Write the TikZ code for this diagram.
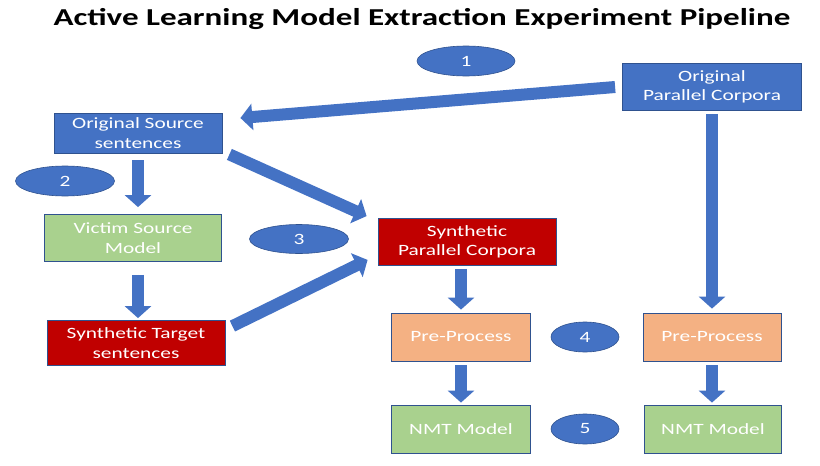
\documentclass[tikz,border=0pt]{standalone}
\usepackage{fontspec}
\setmainfont{Carlito}[FakeStretch=1.36]
\usetikzlibrary{arrows.meta,shapes.geometric}
\definecolor{obl}{HTML}{4472C4}
\definecolor{obd}{HTML}{2F528F}
\definecolor{ogr}{HTML}{A9D18E}
\definecolor{ord}{HTML}{C00000}
\definecolor{oor}{HTML}{F4B183}
\tikzset{
  box/.style={draw=obd, line width=0.8pt, text=white, align=center, inner sep=0pt, font=\fontsize{15.7}{19.5}\selectfont},
  bluebox/.style={box, fill=obl},
  greenbox/.style={box, fill=ogr},
  redbox/.style={box, fill=ord},
  orbox/.style={box, fill=oor},
  num/.style={ellipse, fill=obl, draw=obd, line width=0.6pt, text=white, inner sep=0pt, font=\fontsize{15.7}{19}\selectfont},
  barrow/.style={draw=obl, line width=12pt, -{Triangle[width=26pt,length=12pt]}, fill=obl},
}
\begin{document}
\begin{tikzpicture}[x=1pt,y=-1pt]
\useasboundingbox (0,0) rectangle (820,466);
\node[font=\bfseries\fontsize{24.3}{28}\selectfont] (title) at (422,19) {Active Learning Model Extraction Experiment Pipeline};
\node[num, minimum width=98pt, minimum height=30pt] (n1) at (466,61) {1};
\node[bluebox, minimum width=179pt, minimum height=47pt] (opc) at (712,87) {Original\\Parallel Corpora};
\node[bluebox, minimum width=168pt, minimum height=40pt] (osrc) at (138,133) {Original Source\\sentences};
\node[num, minimum width=99pt, minimum height=30pt] (n2) at (65,181) {2};
\node[greenbox, minimum width=177pt, minimum height=47pt] (victim) at (133,238) {Victim Source\\Model};
\node[num, minimum width=99pt, minimum height=29pt] (n3) at (299,239) {3};
\node[redbox, minimum width=178pt, minimum height=47pt] (spc) at (467,242) {Synthetic\\Parallel Corpora};
\node[redbox, minimum width=178pt, minimum height=45pt] (stgt) at (136,343) {Synthetic Target\\sentences};
\node[orbox, minimum width=139pt, minimum height=48pt] (preL) at (461,337) {Pre-Process};
\node[num, minimum width=68pt, minimum height=30pt] (n4) at (585,337) {4};
\node[orbox, minimum width=138pt, minimum height=48pt] (preR) at (712,337) {Pre-Process};
\node[greenbox, minimum width=139pt, minimum height=48pt] (nmtL) at (461,429) {NMT Model};
\node[num, minimum width=68pt, minimum height=30pt] (n5) at (585,429) {5};
\node[greenbox, minimum width=137pt, minimum height=48pt] (nmtR) at (713,429) {NMT Model};
% arrows
\draw[barrow] ([xshift=-7pt]opc.west) -- ([shift={(18pt,15pt)}]osrc.east);
\draw[barrow] ([yshift=-7pt]osrc.south) -- ([yshift=7pt]osrc.south |- victim.north);
\draw[barrow] ([shift={(7pt,-1pt)}]osrc.south east) -- ([shift={(-11pt,2pt)}]spc.north west);
\draw[barrow] ([yshift=-13pt]victim.south -| osrc.south) -- ([yshift=2pt]osrc.south |- stgt.north);
\draw[barrow] ([shift={(7pt,-6pt)}]stgt.north east) -- ([shift={(-10pt,6pt)}]spc.south west);
\draw[barrow] ([yshift=-3pt]spc.south -| preL.north) -- ([yshift=3pt]preL.north);
\draw[barrow] ([yshift=-3pt]opc.south) -- ([yshift=4pt]opc.south |- preR.north);
\draw[barrow] ([yshift=-4pt]preL.south) -- ([yshift=2pt]nmtL.north);
\draw[barrow] ([yshift=-4pt]preR.south) -- ([yshift=2pt]preR.south |- nmtR.north);
\end{tikzpicture}
\end{document}
